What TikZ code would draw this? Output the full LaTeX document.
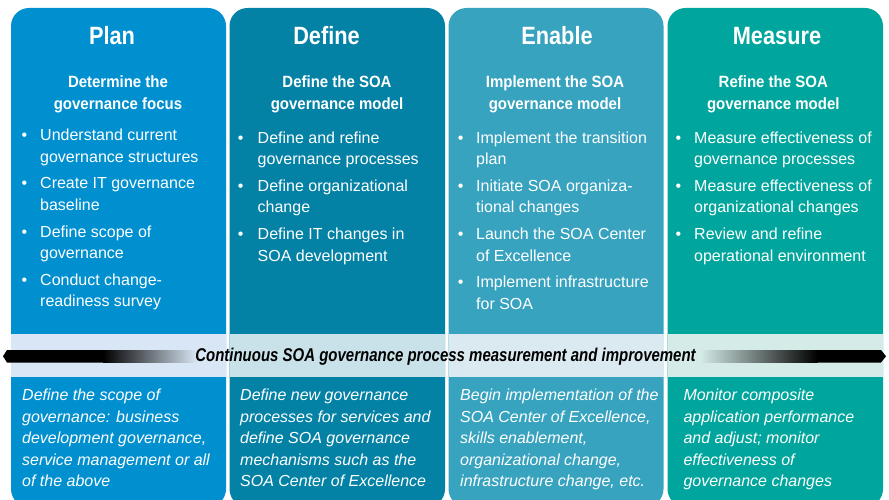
\documentclass[tikz,border=0pt]{standalone}
\usepackage{fontspec}
\setmainfont{Liberation Sans}
\newfontfamily\bodyfont{Liberation Sans}
\newfontfamily\headfont{Liberation Sans}[FakeStretch=0.87]
\newfontfamily\subhfont{Liberation Sans}[FakeStretch=0.92]
\newfontfamily\bandfont{Liberation Sans}[FakeStretch=0.81]
\definecolor{cplan}{HTML}{0090CF}
\definecolor{cdef}{HTML}{0482A6}
\definecolor{cena}{HTML}{37A3BF}
\definecolor{cmea}{HTML}{00A69D}
\definecolor{bplan}{HTML}{D9E6F5}
\definecolor{bdef}{HTML}{C9E2EA}
\definecolor{bena}{HTML}{DAEAF0}
\definecolor{bmea}{HTML}{D4EBE8}
% bullet item: name, bullet x, text x, first baseline, text (two lines)
\newcommand\bitem[5]{\node[colbul] (#1b) at (#2,#4) {•}; \node[coltxt] (#1) at (#3,#4+21.5) {#5};}
\begin{document}
\begin{tikzpicture}[x=1pt,y=-1pt,
  colbox/.style={rounded corners=18pt},
  coltitle/.style={anchor=base, inner sep=0pt, text=white, font=\headfont\bfseries\fontsize{25}{30}\selectfont},
  colsub/.style={anchor=base, inner sep=0pt, text=white, align=center, font=\subhfont\bfseries\fontsize{16.3}{22}\selectfont},
  coltxt/.style={anchor=base west, inner sep=0pt, text=white, align=left, font=\bodyfont\fontsize{16}{21.5}\selectfont},
  colbtm/.style={anchor=base west, inner sep=0pt, text=white, align=left, font=\bodyfont\itshape\fontsize{16}{21.5}\selectfont},
  colbul/.style={anchor=base, inner sep=0pt, text=white, font=\bodyfont\fontsize{16}{21.5}\selectfont},
  bandtxt/.style={anchor=base, inner sep=0pt, text=black, font=\bandfont\bfseries\itshape\fontsize{18.5}{22}\selectfont}]
\clip (0,0) rectangle (889,500);
\fill[white] (0,0) rectangle (889,500);
% columns
\fill[cplan, colbox] (11,8) rectangle (226,507);
\fill[cdef, colbox] (229.5,8) rectangle (445,507);
\fill[cena, colbox] (448.5,8) rectangle (663.5,507);
\fill[cmea, colbox] (667.5,8) rectangle (883,507);
% band
\fill[bplan] (11,333.5) rectangle (226,376.5);
\fill[bdef] (229.5,333.5) rectangle (445,376.5);
\fill[bena] (448.5,333.5) rectangle (663.5,376.5);
\fill[bmea] (667.5,333.5) rectangle (883,376.5);
% bar
\fill[black] (3,356.25) -- (7,350) -- (103.5,350) -- (103.5,362.5) -- (7,362.5) -- cycle;
\shade[left color=black, right color=bplan] (103,350) rectangle (197,362.5);
\shade[left color=bmea, right color=black] (700,350) rectangle (817.5,362.5);
\fill[black] (817,350) -- (881,350) -- (886,356.25) -- (881,362.5) -- (817,362.5) -- cycle;
\node[bandtxt] (band) at (445.5,361.5) {Continuous SOA governance process measurement and improvement};
% titles
\node[coltitle] (tplan) at (112,44.3) {Plan};
\node[coltitle] (tdef) at (326.5,44.3) {Define};
\node[coltitle] (tena) at (557,44.3) {Enable};
\node[coltitle] (tmea) at (777,44.3) {Measure};
% subtitles (anchor at last baseline)
\node[colsub] (splan) at (118,110) {Determine the\\governance focus};
\node[colsub] (sdef) at (337,110) {Define the SOA\\governance model};
\node[colsub] (sena) at (555,110) {Implement the SOA\\governance model};
\node[colsub] (smea) at (773.3,110) {Refine the SOA\\governance model};
% bullets
\bitem{p1}{24.5}{40}{141}{Understand current\\governance structures}
\bitem{p2}{24.5}{40}{189}{Create IT governance\\baseline}
\bitem{p3}{24.5}{40}{237}{Define scope of\\governance}
\bitem{p4}{24.5}{40}{285}{Conduct change-\\readiness survey}
\bitem{d1}{240.7}{257.5}{143}{Define and refine\\governance processes}
\bitem{d2}{240.7}{257.5}{191}{Define organizational\\change}
\bitem{d3}{240.7}{257.5}{239.5}{Define IT changes in\\SOA development}
\bitem{e1}{460.7}{476}{143}{Implement the transition\\plan}
\bitem{e2}{460.7}{476}{191}{Initiate SOA organiza-\\tional changes}
\bitem{e3}{460.7}{476}{239.5}{Launch the SOA Center\\of Excellence}
\bitem{e4}{460.7}{476}{287.5}{Implement infrastructure\\for SOA}
\bitem{m1}{678.3}{694}{143}{Measure effectiveness of\\governance processes}
\bitem{m2}{678.3}{694}{191}{Measure effectiveness of\\organizational changes}
\bitem{m3}{678.3}{694}{239.5}{Review and refine\\operational environment}
% bottom texts (anchor at last baseline)
\node[colbtm] (bplan) at (22,486.5) {Define the scope of\\governance: business\\development governance,\\service management or all\\of the above};
\node[colbtm] (bdef) at (240,486.5) {Define new governance\\processes for services and\\define SOA governance\\mechanisms such as the\\SOA Center of Excellence};
\node[colbtm] (bena) at (460,486.5) {Begin implementation of the\\SOA Center of Excellence,\\skills enablement,\\organizational change,\\infrastructure change, etc.};
\node[colbtm] (bmea) at (683.3,486.5) {Monitor composite\\application performance\\and adjust; monitor\\effectiveness of\\governance changes};
\end{tikzpicture}
\end{document}
